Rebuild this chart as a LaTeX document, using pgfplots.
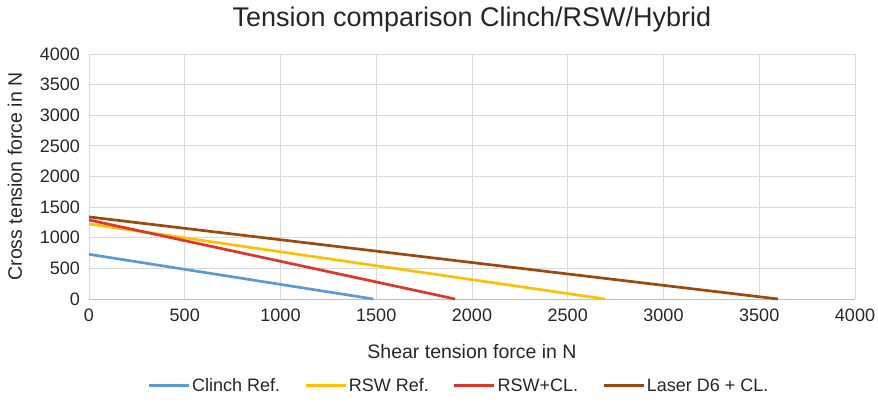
\documentclass[border=0pt]{standalone}
\usepackage{pgfplots}
\pgfplotsset{compat=1.18}
\usepackage{fontspec}
\setmainfont{Liberation Sans}
\definecolor{cblue}{HTML}{5B9BD5}
\definecolor{cyellow}{HTML}{FFC000}
\definecolor{cred}{HTML}{E2352A}
\definecolor{cbrown}{HTML}{9E480E}
\definecolor{cgrid}{HTML}{D9D9D9}
\begin{document}
\begin{tikzpicture}
\begin{axis}[
  name=ax,
  at={(0,0)}, anchor=south west,
  scale only axis,
  width=766pt, height=245pt,
  xmin=0, xmax=4000, ymin=0, ymax=4000,
  xtick={0,500,...,4000}, ytick={0,500,...,4000},
  grid=major,
  grid style={cgrid, line width=0.8pt},
  axis line style={draw=none},
  tick style={draw=none},
  /pgf/number format/assume math mode=true,
  /pgf/number format/1000 sep={},
  tick label style={font=\fontsize{18}{21}\selectfont, text=black!85, inner sep=0pt},
  xticklabel style={anchor=north, yshift=-10pt},
  yticklabel style={anchor=east, xshift=-9pt},
  title={Tension comparison Clinch/RSW/Hybrid},
  title style={font=\fontsize{27}{32}\selectfont, text=black!85, at={(axis description cs:0.5,1)}, anchor=base, yshift=21pt},
  xlabel={Shear tension force in N},
  ylabel={Cross tension force in N},
  xlabel style={font=\fontsize{19.5}{23}\selectfont, text=black!85, at={(axis description cs:0.5,0)}, anchor=base, yshift=-60pt},
  ylabel style={font=\fontsize{19.5}{23}\selectfont, text=black!85, at={(axis description cs:-0.0966,0.5)}, anchor=center},
  legend style={at={(axis description cs:0.483,-0.353)}, anchor=center, draw=none, fill=none,
    font=\fontsize{18}{21}\selectfont, text=black!85,
    nodes={inner xsep=2pt},
    legend columns=4, /tikz/every even column/.append style={column sep=22pt}},
  legend image code/.code={\draw[#1] (0pt,0pt) -- (40pt,0pt);},
  clip=false,
]
\draw[draw=black!25, line width=0.8pt] (axis cs:0,0) -- (axis cs:4000,0);
\addplot[cblue, line width=2.7pt] coordinates {(0,730) (1485,0)};
\addlegendentry{Clinch Ref.}
\addplot[cyellow, line width=2.7pt] coordinates {(0,1225) (2695,0)};
\addlegendentry{RSW Ref.}
\addplot[cred, line width=2.7pt] coordinates {(0,1290) (1912,0)};
\addlegendentry{RSW+CL.}
\addplot[cbrown, line width=2.7pt] coordinates {(0,1340) (3598,0)};
\addlegendentry{Laser D6 + CL.}
\end{axis}
\pgfresetboundingbox
\path (-89pt,-104pt) rectangle (789pt,299pt);
\end{tikzpicture}
\end{document}
